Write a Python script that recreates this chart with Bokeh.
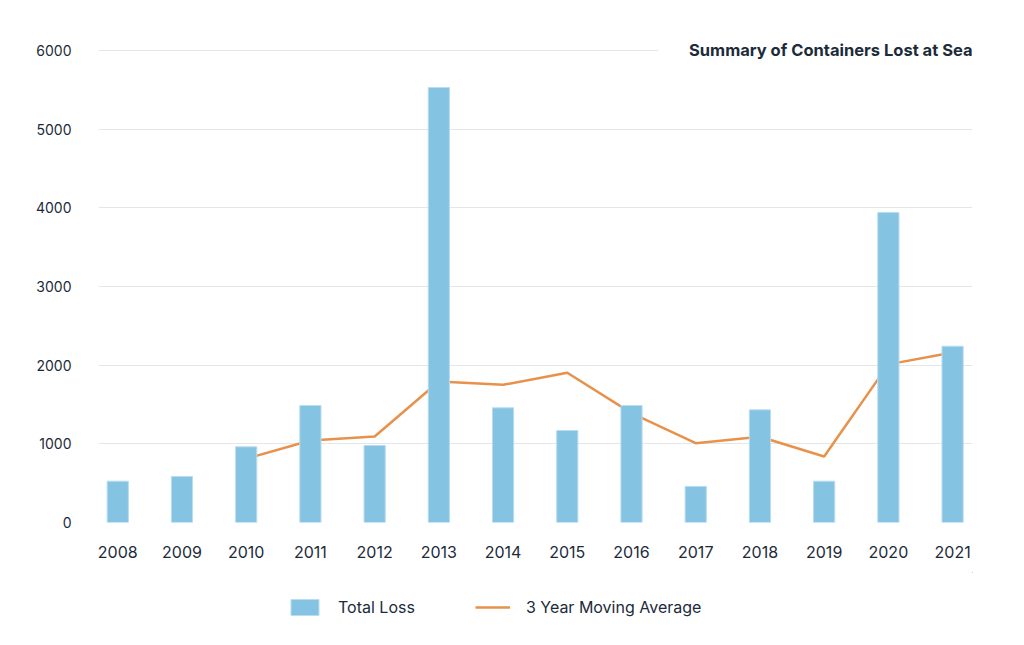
from bokeh.plotting import figure
from bokeh.models import Legend, LegendItem, Label, FixedTicker, Range1d
from bokeh.layouts import column
from bokeh.embed import file_html
from bokeh.resources import INLINE

years = [2008, 2009, 2010, 2011, 2012, 2013, 2014, 2015, 2016, 2017, 2018, 2019, 2020, 2021]
total_loss = [525, 585, 962, 1487, 979, 5530, 1458, 1169, 1487, 458, 1432, 525, 3940, 2241]
avg_years = [2010, 2011, 2012, 2013, 2014, 2015, 2016, 2017, 2018, 2019, 2020, 2021]
moving_avg = [810, 1042, 1093, 1792, 1750, 1903, 1390, 1008, 1090, 839, 2010, 2160]
y_ticks = [0, 1000, 2000, 3000, 4000, 5000, 6000]
title_text = "Summary of Containers Lost at Sea"
legend_labels = ["Total Loss", "3 Year Moving Average"]

FONT = "Inter"
TXT = "#1c2b3a"
BAR = "#85c3e3"
BAR_EDGE = "#b8dcf0"
LINE = "#e8914a"

# main chart
p = figure(frame_width=874, frame_height=482, min_border_left=98, min_border_right=44,
           min_border_top=40, min_border_bottom=50,
           x_range=Range1d(2007.70, 2021.31), y_range=Range1d(0, 6127),
           output_backend="svg", toolbar_location=None)
p.outline_line_color = None
p.background_fill_color = "white"
p.border_fill_color = "white"

p.line(avg_years, moving_avg, line_color=LINE, line_width=2.5)
p.vbar(x=years, top=total_loss, width=0.33, fill_color=BAR, line_color=BAR_EDGE, line_width=1)

p.xaxis.ticker = FixedTicker(ticks=years)
p.yaxis.ticker = FixedTicker(ticks=y_ticks)
for ax in (p.xaxis, p.yaxis):
    ax.axis_line_color = None
    ax.major_tick_line_color = None
    ax.minor_tick_line_color = None
    ax.major_label_text_font = FONT
    ax.major_label_text_color = TXT
p.xaxis.major_label_text_font_size = "16px"
p.yaxis.major_label_text_font_size = "14px"
p.xaxis.major_label_standoff = 17
p.yaxis.major_label_standoff = 21
p.xgrid.grid_line_color = None
p.ygrid.grid_line_color = "#e6e6e6"
p.ygrid.grid_line_width = 1

title = Label(x=2021.31, y=6000, text=title_text, text_align="right", text_baseline="middle",
              text_font=FONT, text_font_style="bold", text_font_size="16.5px", text_color=TXT,
              background_fill_color="white", padding=dict(left=31, right=0, top=3, bottom=3))
p.add_layout(title)

# legend strip below the chart (its series lie outside its visible range; only the legend shows)
lg = figure(width=1016, height=60, min_border=0, x_range=Range1d(-2, -1), y_range=Range1d(-2, -1),
            x_axis_type=None, y_axis_type=None, output_backend="svg", toolbar_location=None)
lg.outline_line_color = None
lg.background_fill_color = "white"
lg.border_fill_color = "white"
bar_key = lg.vbar(x=years, top=total_loss, width=0.33, fill_color=BAR, line_color=BAR_EDGE, line_width=1)
line_key = lg.line(avg_years, moving_avg, line_color=LINE, line_width=2.5)

legend = Legend(items=[LegendItem(label=legend_labels[0], renderers=[bar_key]),
                       LegendItem(label=legend_labels[1], renderers=[line_key])],
                orientation="horizontal", location=(189, 15),
                glyph_width=35, glyph_height=20, label_height=20, label_standoff=16,
                spacing=60, padding=0, margin=0,
                label_text_font=FONT, label_text_font_size="16px", label_text_color=TXT,
                border_line_color=None, background_fill_alpha=0)
lg.add_layout(legend)

layout = column(p, lg, spacing=0)
open("out.html", "w").write(file_html(layout, INLINE))
